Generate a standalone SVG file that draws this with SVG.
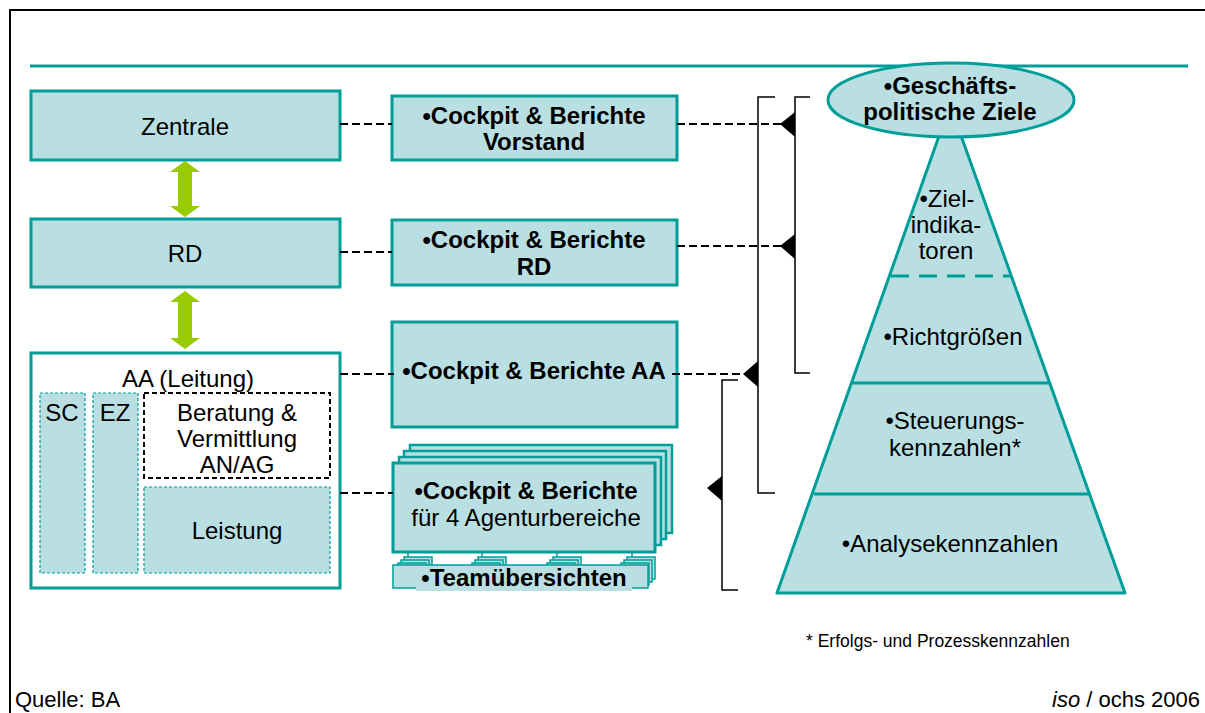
<svg xmlns="http://www.w3.org/2000/svg" width="1205" height="713" viewBox="0 0 1205 713">
  <defs>
    <style>
      .box { fill: #BADFE2; stroke: #009E99; stroke-width: 3; }
      .sub { fill: #BADFE2; stroke: #009E99; stroke-width: 1.2; stroke-dasharray: 3 2; }
      .t { font-family: "Liberation Sans", Arial, sans-serif; font-size: 24px; fill: #000; text-anchor: middle; }
      .b { font-weight: bold; }
      .dash { fill: none; stroke: #000; stroke-width: 2; stroke-dasharray: 8 4; }
      .brk { fill: none; stroke: #000; stroke-width: 1.5; }
      .tip { fill: #000; }
      .green { fill: #99CC00; }
      .foot { font-family: "Liberation Sans", Arial, sans-serif; font-size: 22px; fill: #000; }
    </style>
    <g id="tab">
      <rect x="6" y="-6" width="28" height="22" fill="#BADFE2" stroke="#009E99" stroke-width="1.5"/>
      <rect x="3" y="-3" width="28" height="22" fill="#BADFE2" stroke="#009E99" stroke-width="1.5"/>
      <rect x="0" y="0" width="28" height="22" fill="#BADFE2" stroke="#009E99" stroke-width="1.5"/>
    </g>
  </defs>

  <rect width="1205" height="713" fill="#fff"/>

  <!-- frame and header rule -->
  <path d="M10,713 V10 H1205" fill="none" stroke="#000" stroke-width="2"/>
  <line x1="30" y1="66" x2="1188" y2="66" stroke="#009E99" stroke-width="3"/>

  <!-- organisation levels -->
  <g id="zentrale">
    <rect class="box" x="31" y="91" width="309" height="69"/>
    <text class="t" x="185" y="135">Zentrale</text>
  </g>
  <g id="rd">
    <rect class="box" x="31" y="219" width="309" height="68"/>
    <text class="t" x="185" y="262">RD</text>
  </g>
  <g id="aa">
    <rect x="31" y="353" width="309" height="235" fill="#fff" stroke="#009E99" stroke-width="3"/>
    <text class="t" x="188" y="387">AA (Leitung)</text>
    <rect class="sub" x="40" y="393" width="45" height="180"/>
    <text class="t" x="62" y="421">SC</text>
    <rect class="sub" x="93" y="393" width="45" height="180"/>
    <text class="t" x="115" y="421">EZ</text>
    <rect x="144" y="393" width="186" height="85" fill="#fff" stroke="#000" stroke-width="2" stroke-dasharray="5 3"/>
    <text class="t" x="237" y="421">Beratung &amp;</text>
    <text class="t" x="237" y="447">Vermittlung</text>
    <text class="t" x="237" y="473">AN/AG</text>
    <rect class="sub" x="144" y="487" width="186" height="86"/>
    <text class="t" x="237" y="539">Leistung</text>
  </g>

  <!-- double arrows between levels -->
  <g id="arrows-org">
    <polygon class="green" points="185,161 200,172 192,172 192,206 200,206 185,217 170,206 178,206 178,172 170,172"/>
    <polygon class="green" points="185,291 200,302 192,302 192,338 200,338 185,349 170,338 178,338 178,302 170,302"/>
  </g>

  <!-- reporting boxes -->
  <g id="cockpit-vorstand">
    <rect class="box" x="392" y="96" width="285" height="64"/>
    <text class="t b" x="534" y="124">•Cockpit &amp; Berichte</text>
    <text class="t b" x="534" y="150">Vorstand</text>
  </g>
  <g id="cockpit-rd">
    <rect class="box" x="392" y="220" width="285" height="65"/>
    <text class="t b" x="534" y="248">•Cockpit &amp; Berichte</text>
    <text class="t b" x="534" y="275">RD</text>
  </g>
  <g id="cockpit-aa">
    <rect class="box" x="392" y="322" width="285" height="105"/>
    <text class="t b" x="534" y="379">•Cockpit &amp; Berichte AA</text>
  </g>
  <g id="cockpit-agentur">
    <rect x="410" y="445" width="262" height="88" fill="#BADFE2" stroke="#009E99" stroke-width="2.5"/>
    <rect x="404" y="451" width="262" height="88" fill="#BADFE2" stroke="#009E99" stroke-width="2.5"/>
    <rect x="399" y="457" width="262" height="88" fill="#BADFE2" stroke="#009E99" stroke-width="2.5"/>
    <rect class="box" x="393" y="463" width="262" height="89"/>
    <text class="t b" x="526" y="499">•Cockpit &amp; Berichte</text>
    <text class="t" x="526" y="526">für 4 Agenturbereiche</text>
  </g>
  <g id="teamuebersichten">
    <g stroke="#009E99" stroke-width="1.5">
      <line x1="408" y1="552" x2="408" y2="562"/>
      <line x1="482" y1="552" x2="482" y2="562"/>
      <line x1="557" y1="552" x2="557" y2="562"/>
      <line x1="632" y1="552" x2="632" y2="562"/>
    </g>
    <use href="#tab" x="398" y="563"/>
    <use href="#tab" x="472" y="563"/>
    <use href="#tab" x="547" y="563"/>
    <use href="#tab" x="621" y="563"/>
    <rect x="393" y="565" width="255" height="23" fill="#BADFE2" stroke="#009E99" stroke-width="1.5"/>
    <rect x="416" y="568" width="216" height="23" fill="#BADFE2"/>
    <text class="t b" x="524" y="586">•Teamübersichten</text>
  </g>

  <!-- pyramid of targets -->
  <g id="pyramide">
    <polygon points="950,105 777,593 1125,593" fill="#BADFE2" stroke="#009E99" stroke-width="3" stroke-linejoin="round"/>
    <line x1="891" y1="276" x2="1012" y2="276" stroke="#009E99" stroke-width="3" stroke-dasharray="18 10"/>
    <line x1="853" y1="383" x2="1050" y2="383" stroke="#009E99" stroke-width="3"/>
    <line x1="814" y1="494" x2="1089" y2="494" stroke="#009E99" stroke-width="3"/>
    <text class="t" x="947" y="207">•Ziel-</text>
    <text class="t" x="946" y="233">indika-</text>
    <text class="t" x="946" y="259">toren</text>
    <text class="t" x="953" y="345">•Richtgrößen</text>
    <text class="t" x="955" y="429">•Steuerungs-</text>
    <text class="t" x="955" y="456">kennzahlen*</text>
    <text class="t" x="950" y="552">•Analysekennzahlen</text>
  </g>
  <g id="ziele">
    <ellipse cx="951" cy="100" rx="123" ry="37" fill="#BADFE2" stroke="#009E99" stroke-width="3"/>
    <text class="t b" x="950" y="94">•Geschäfts-</text>
    <text class="t b" x="950" y="120">politische Ziele</text>
  </g>

  <!-- connectors -->
  <g id="connectors">
    <line class="dash" x1="340" y1="124" x2="392" y2="124"/>
    <line class="dash" x1="677" y1="124" x2="782" y2="124"/>
    <line class="dash" x1="340" y1="252" x2="392" y2="252"/>
    <line class="dash" x1="677" y1="246" x2="782" y2="246"/>
    <line class="dash" x1="340" y1="374" x2="394" y2="374"/>
    <line class="dash" x1="672" y1="374" x2="745" y2="374"/>
    <line class="dash" x1="340" y1="493" x2="393" y2="493"/>

    <path class="brk" d="M810,97 H795 V373 H810"/>
    <path class="brk" d="M775,97 H758 V493 H775"/>
    <path class="brk" d="M738,380 H722 V590 H738"/>

    <polygon class="tip" points="795,112 780,124 795,137"/>
    <polygon class="tip" points="795,234 780,246 795,259"/>
    <polygon class="tip" points="758,361 743,374 758,387"/>
    <polygon class="tip" points="722,476 707,488 722,501"/>
  </g>

  <!-- notes -->
  <text x="806" y="647" font-family="Liberation Sans, Arial, sans-serif" font-size="17.5">* Erfolgs- und Prozesskennzahlen</text>
  <text class="foot" x="15" y="707">Quelle: BA</text>
  <text class="foot" x="1200" y="707" text-anchor="end"><tspan font-style="italic">iso</tspan> / ochs 2006</text>
</svg>
